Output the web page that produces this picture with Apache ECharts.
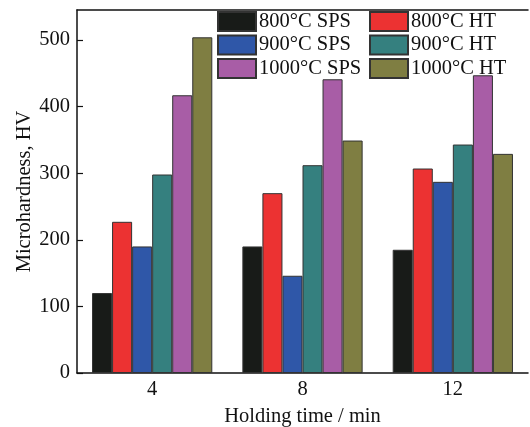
<!DOCTYPE html>
<html>
<head>
<meta charset="utf-8">
<script src="https://cdn.jsdelivr.net/npm/echarts@6/dist/echarts.min.js"></script>
<style>html,body{margin:0;padding:0;background:#fff;}#c{width:530px;height:427px;}</style>
</head>
<body>
<div id="c"></div>
<script>
var categories = ['4', '8', '12'];
var seriesNames = ['800°C SPS', '800°C HT', '900°C SPS', '900°C HT', '1000°C SPS', '1000°C HT'];
var sps800 = [120, 190, 185];
var ht800 = [227, 270, 307];
var sps900 = [190, 146, 287];
var ht900 = [298, 312, 343];
var sps1000 = [417, 441, 447];
var ht1000 = [504, 349, 329];
var seriesValues = [sps800, ht800, sps900, ht900, sps1000, ht1000];
var colors = ['#181b18', '#ec3232', '#2f57a8', '#35807f', '#a85da6', '#7f7e42'];

var font = 'Liberation Serif, Times New Roman, serif';
var chart = echarts.init(document.getElementById('c'));
var series = seriesNames.map(function (n, i) {
  return {
    name: n, type: 'bar', data: seriesValues[i],
    barGap: '0%', barCategoryGap: '20%',
    itemStyle: { color: colors[i], borderColor: '#333', borderWidth: 1 }
  };
});
var legendCommon = {
  orient: 'vertical', top: 11, itemWidth: 38, itemHeight: 19, itemGap: 2.5,
  icon: 'rect',
  textStyle: { fontFamily: font, fontSize: 20.5, color: '#111', padding: [0, 0, 0, -2] },
  padding: 0
};
chart.setOption({
  animation: false,
  color: colors,
  textStyle: { fontFamily: font },
  legend: [
    Object.assign({ left: 217, data: [seriesNames[0], seriesNames[2], seriesNames[4]] }, legendCommon),
    Object.assign({ left: 369, data: [seriesNames[1], seriesNames[3], seriesNames[5]] }, legendCommon)
  ],
  grid: { left: 77, right: 2, top: 10, bottom: 54, containLabel: false, outerBoundsMode: 'none' },
  xAxis: [{
    type: 'category', data: categories,
    name: 'Holding time / min', nameLocation: 'middle', nameGap: 33, nameMoveOverlap: false,
    nameTextStyle: { fontFamily: font, fontSize: 20.5, color: '#111' },
    axisLine: { lineStyle: { color: '#111', width: 1.5 } },
    axisTick: { show: false },
    axisLabel: { fontFamily: font, fontSize: 20.5, color: '#111', margin: 6 }
  }, {
    type: 'category', data: categories, position: 'top',
    axisLine: { show: true, lineStyle: { color: '#111', width: 1.5 } },
    axisTick: { show: false }, axisLabel: { show: false }
  }],
  yAxis: {
    type: 'value', min: 0, max: 545, interval: 100,
    name: 'Microhardness, HV', nameLocation: 'middle', nameGap: 42, nameMoveOverlap: false,
    nameTextStyle: { fontFamily: font, fontSize: 20.5, color: '#111' },
    axisLine: { show: true, lineStyle: { color: '#111', width: 1.5 } },
    axisTick: { show: true, inside: true, length: 6, lineStyle: { color: '#111', width: 1.2 } },
    axisLabel: { fontFamily: font, fontSize: 20.5, color: '#111', margin: 7, showMaxLabel: false },
    splitLine: { show: false }
  },
  series: series
});
</script>
</body>
</html>
